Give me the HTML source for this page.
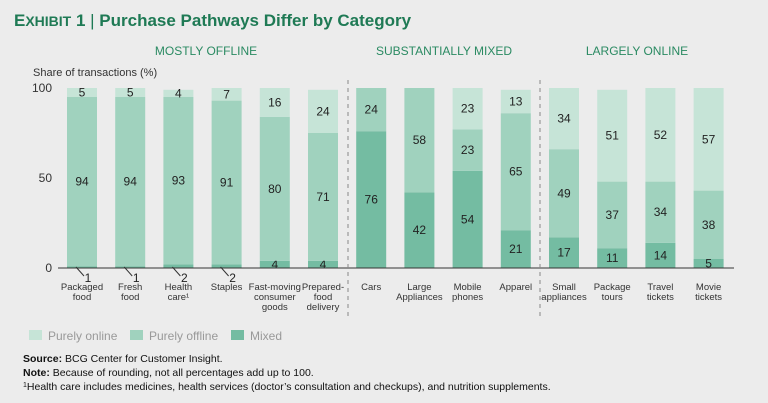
<!DOCTYPE html>
<html><head><meta charset="utf-8"><style>
body{margin:0;background:#ececec;}
svg{display:block;font-family:"Liberation Sans",sans-serif;}
</style></head><body>
<svg id="c" width="768" height="403" viewBox="0 0 768 403">
<rect width="768" height="403" fill="#ececec"/>
<text x="14" y="26" font-size="17" font-weight="bold" fill="#1f7a55">E<tspan font-size="14">XHIBIT</tspan> 1 <tspan font-weight="normal">|</tspan> Purchase Pathways Differ by Category</text>
<text x="206" y="55" font-size="12" fill="#2a8a62" text-anchor="middle">MOSTLY OFFLINE</text>
<text x="444" y="55" font-size="12" fill="#2a8a62" text-anchor="middle">SUBSTANTIALLY MIXED</text>
<text x="637" y="55" font-size="12" fill="#2a8a62" text-anchor="middle">LARGELY ONLINE</text>
<text x="33" y="76" font-size="11" fill="#333">Share of transactions (%)</text>
<g id="bars"></g>
<line x1="58" y1="268" x2="734" y2="268" stroke="#333" stroke-width="1"/>
<line x1="348" y1="80" x2="348" y2="318" stroke="#888" stroke-dasharray="4,4"/>
<line x1="540" y1="80" x2="540" y2="318" stroke="#888" stroke-dasharray="4,4"/>
<g>
<rect x="29" y="330" width="13" height="10" fill="#c6e4d7"/>
<text x="48" y="340" font-size="12" fill="#999">Purely online</text>
<rect x="130" y="330" width="13" height="10" fill="#a0d2be"/>
<text x="149" y="340" font-size="12" fill="#999">Purely offline</text>
<rect x="231" y="330" width="13" height="10" fill="#74bca2"/>
<text x="250" y="340" font-size="12" fill="#999">Mixed</text>
</g>
<text x="23" y="362" font-size="10.5" fill="#111"><tspan font-weight="bold">Source:</tspan> BCG Center for Customer Insight.</text>
<text x="23" y="376" font-size="10.5" fill="#111"><tspan font-weight="bold">Note:</tspan> Because of rounding, not all percentages add up to 100.</text>
<text x="23" y="390" font-size="10.5" fill="#111"><tspan font-size="7" dy="-3">1</tspan><tspan dy="3">Health care includes medicines, health services (doctor’s consultation and checkups), and nutrition supplements.</tspan></text>
</svg>
<script>
const categories=[["Packaged","food"],["Fresh","food"],["Health","care¹"],["Staples"],["Fast-moving","consumer","goods"],["Prepared-","food","delivery"],["Cars"],["Large","Appliances"],["Mobile","phones"],["Apparel"],["Small","appliances"],["Package","tours"],["Travel","tickets"],["Movie","tickets"]];
const mixed=[1,1,2,2,4,4,76,42,54,21,17,11,14,5];
const offline=[94,94,93,91,80,71,24,58,23,65,49,37,34,38];
const online=[5,5,4,7,16,24,0,0,23,13,34,51,52,57];
const yTicks=[0,50,100];
const NS="http://www.w3.org/2000/svg";
const g=document.getElementById('bars');
const y0=268,y100=88;
function y(v){return y0-(y0-y100)*v/100;}
function x(i){return 82+48.2*i;}
const W=30;
function mk(t,a){const e=document.createElementNS(NS,t);for(const k in a)e.setAttribute(k,a[k]);g.appendChild(e);return e;}
yTicks.forEach(t=>{const e=mk('text',{x:52,y:y(t)+4,'font-size':12,fill:'#333','text-anchor':'end'});e.textContent=t;

});
const cols={mixed:'#74bca2',offline:'#a0d2be',online:'#c6e4d7'};
categories.forEach((c,i)=>{
  const cx=x(i);let base=0;
  [['mixed',mixed[i]],['offline',offline[i]],['online',online[i]]].forEach(([k,v])=>{
    if(v<=0)return;
    const r=mk('rect',{x:cx-W/2,y:y(base+v),width:W,height:y(base)-y(base+v),fill:cols[k]});
    
    
    let ty=(y(base)+y(base+v))/2+4;
    if(k==='mixed'&&v<=2){
      const l=mk('line',{x1:cx-6,y1:y0-1,x2:cx+2,y2:y0+8,stroke:'#333','stroke-width':1});
      
      
      ty=y0+14;
      const t=mk('text',{x:cx+6,y:ty,'font-size':12,fill:'#222','text-anchor':'middle'});t.textContent=v;
      
      
    }else{
      const t=mk('text',{x:cx,y:ty,'font-size':12,fill:'#222','text-anchor':'middle'});t.textContent=v;
      
      
    }
    base+=v;
  });
  const t=mk('text',{x:cx,y:y0+22,'font-size':9.5,fill:'#333','text-anchor':'middle'});
  
  
  c.forEach((s,j)=>{const ts=document.createElementNS(NS,'tspan');ts.setAttribute('x',cx);ts.setAttribute('dy',j?10:0);ts.textContent=s;t.appendChild(ts);});
});
</script>
</body></html>
